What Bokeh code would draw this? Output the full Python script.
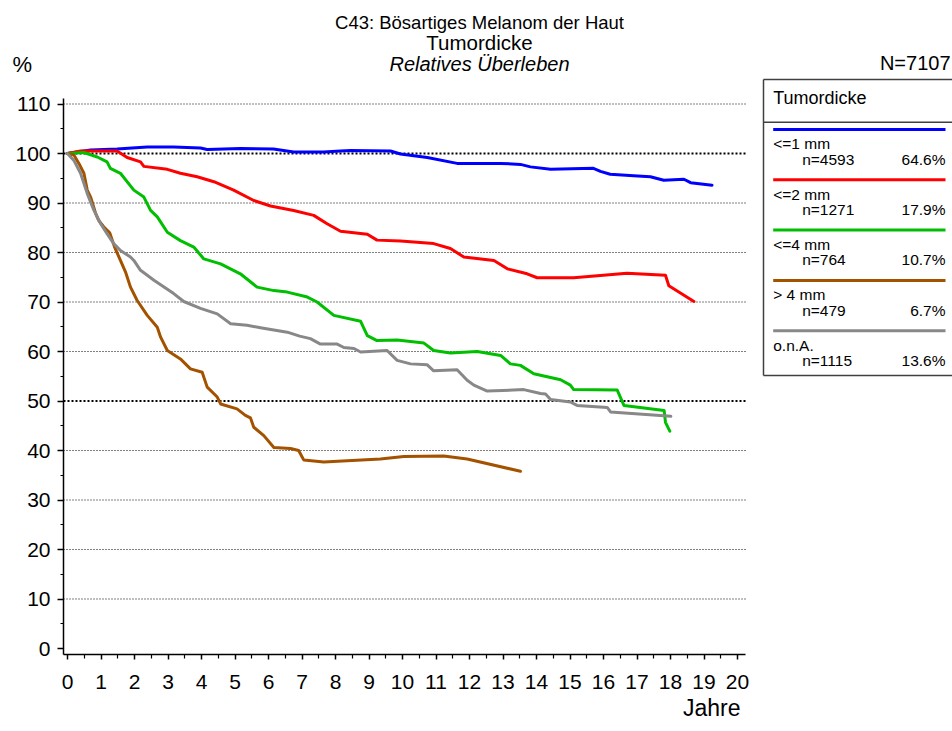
from bokeh.plotting import figure
from bokeh.models import Range1d, FixedTicker, Label, ColumnDataSource, LinearAxis
from bokeh.core.properties import value
from bokeh.embed import file_html
from bokeh.resources import INLINE

# ---------------- data ----------------
chart_title = "C43: Bösartiges Melanom der Haut"
chart_subtitle = "Tumordicke"
chart_measure = "Relatives Überleben"
x_label = "Jahre"
y_label = "%"
legend_title = "Tumordicke"
n_total = 7107

groups = ["<=1 mm", "<=2 mm", "<=4 mm", "> 4 mm", "o.n.A."]
group_n = [4593, 1271, 764, 479, 1115]
group_pct = [64.6, 17.9, 10.7, 6.7, 13.6]
group_colors = ["#0000FF", "#FF0000", "#00BE00", "#A35200", "#888888"]

x_le1 = [0, 0.69, 1.48, 2.38, 3.17, 3.97, 4.17, 5.16, 6.15, 6.75, 7.64, 8.15, 8.45, 9.64, 9.94,
         10.74, 11.63, 12.93, 13.52, 13.82, 14.42, 15.7, 15.91, 16.2, 16.9, 17.4, 17.8, 18.4, 18.6, 19.24]
y_le1 = [100, 100.7, 100.9, 101.3, 101.3, 101.1, 100.8, 101.0, 100.9, 100.3, 100.3, 100.5, 100.6, 100.5, 99.9,
         99.2, 98.0, 98.0, 97.8, 97.3, 96.8, 97.0, 96.4, 95.8, 95.5, 95.3, 94.6, 94.8, 94.1, 93.6]

x_le2 = [0, 0.39, 1.48, 1.78, 2.18, 2.28, 2.98, 3.37, 3.87, 4.37, 4.96, 5.56, 6.06, 6.75, 7.35, 7.75,
         8.15, 8.95, 9.24, 9.94, 10.93, 11.43, 11.83, 12.73, 13.13, 13.72, 14.02, 15.11, 16.7, 17.85, 17.95, 18.7]
y_le2 = [100, 100.5, 100.5, 99.2, 98.3, 97.4, 96.8, 96.0, 95.3, 94.3, 92.6, 90.5, 89.4, 88.5, 87.5, 85.8,
         84.3, 83.7, 82.5, 82.3, 81.8, 80.8, 79.1, 78.4, 76.7, 75.7, 74.9, 74.9, 75.8, 75.4, 73.3, 70.1]

x_le4 = [0, 0.49, 0.89, 1.18, 1.28, 1.58, 1.98, 2.28, 2.48, 2.68, 2.98, 3.37, 3.77, 4.07, 4.57, 5.16,
         5.66, 6.16, 6.56, 7.16, 7.45, 7.95, 8.75, 8.95, 9.24, 9.84, 10.64, 10.93, 11.43, 12.23, 12.93,
         13.22, 13.52, 13.92, 14.72, 15.01, 15.11, 16.41, 16.61, 17.81, 17.85, 17.98]
y_le4 = [100, 100.2, 99.3, 98.3, 97.0, 96.0, 92.6, 91.2, 88.5, 87.2, 84.1, 82.4, 81.1, 78.7, 77.7, 75.7,
         73.0, 72.3, 72.0, 71.0, 70.0, 67.3, 66.1, 63.2, 62.2, 62.3, 61.7, 60.2, 59.7, 60.0, 59.2,
         57.5, 57.2, 55.5, 54.3, 53.2, 52.3, 52.2, 49.1, 48.1, 45.7, 43.9]

x_gt4 = [0, 0.19, 0.34, 0.49, 0.59, 0.69, 0.84, 0.93, 1.08, 1.26, 1.4, 1.58, 1.73, 1.88, 2.08, 2.38,
         2.68, 2.78, 2.98, 3.37, 3.67, 4.02, 4.17, 4.47, 4.57, 5.06, 5.31, 5.46, 5.56, 5.86, 6.16,
         6.66, 6.9, 7.05, 7.65, 9.34, 10.04, 11.23, 11.93, 13.52]
y_gt4 = [100, 99.7, 98.0, 96.0, 92.6, 91.2, 87.9, 86.5, 85.2, 84.0, 81.2, 78.4, 76.1, 73.0, 70.3, 67.3,
         64.9, 62.9, 60.2, 58.5, 56.5, 55.8, 52.8, 50.8, 49.4, 48.4, 47.1, 46.6, 44.7, 43.0, 40.6,
         40.4, 40.0, 38.1, 37.7, 38.3, 38.8, 38.9, 38.3, 35.8]

x_ona = [0, 0.19, 0.39, 0.59, 0.79, 0.99, 1.18, 1.38, 1.58, 1.88, 1.98, 2.18, 2.58, 3.17, 3.47, 3.97,
         4.47, 4.87, 5.36, 5.76, 6.56, 6.93, 7.25, 7.55, 8.05, 8.25, 8.55, 8.75, 9.54, 9.84, 10.24,
         10.74, 10.93, 11.63, 11.93, 12.13, 12.53, 13.62, 14.12, 14.27, 14.42, 15.01, 15.21, 16.11, 16.21, 18.01]
y_ona = [100, 98.6, 96.0, 91.9, 88.5, 85.8, 83.8, 81.8, 80.4, 79.1, 78.4, 76.4, 74.4, 71.7, 70.1, 68.7,
         67.6, 65.6, 65.3, 64.8, 63.9, 63.1, 62.6, 61.5, 61.5, 60.8, 60.6, 59.9, 60.2, 58.2, 57.5,
         57.3, 56.1, 56.3, 54.2, 53.2, 52.0, 52.3, 51.5, 51.4, 50.3, 49.8, 49.1, 48.7, 47.8, 46.9]

series_x = [x_le1, x_le2, x_le4, x_gt4, x_ona]
series_y = [y_le1, y_le2, y_le4, y_gt4, y_ona]

x_ticks = list(range(0, 21))
y_ticks = list(range(0, 111, 10))
grid_levels = [10, 20, 30, 40, 60, 70, 80, 90, 110]
bold_levels = [50, 100]

# ---------------- layout (pixel geometry) ----------------
FONT = "Liberation Sans"
W, H = 952, 730
PPX, PPY = 33.5, 4.95      # pixels per year / per percent
X0_PX, Y0_PX = 67, 648     # pixel position of year 0 / 0 %
PLOT_L, PLOT_R, PLOT_T, PLOT_B = 63, 745, 98, 654


def dx(px):
    return (px - X0_PX) / PPX


def dy(py):
    return (Y0_PX - py) / PPY


p = figure(width=W, height=H, x_range=Range1d(dx(0), dx(W)), y_range=Range1d(dy(H), dy(0)),
           output_backend="svg", toolbar_location=None, tools="", min_border=0,
           x_axis_type=None, y_axis_type=None)
p.outline_line_color = None
p.background_fill_color = "white"
p.border_fill_color = "white"

xa = LinearAxis(fixed_location=dy(PLOT_B), bounds=(dx(PLOT_L), dx(PLOT_R)),
                ticker=FixedTicker(ticks=x_ticks, minor_ticks=[t + 0.5 for t in x_ticks[:-1]]))
ya = LinearAxis(fixed_location=dx(PLOT_L), bounds=(dy(PLOT_B), dy(PLOT_T)),
                ticker=FixedTicker(ticks=y_ticks, minor_ticks=[t + 5 for t in y_ticks[:-1]]))
for ax in (xa, ya):
    ax.axis_line_color = "black"
    ax.axis_line_width = 1.5
    ax.major_tick_line_color = "black"
    ax.major_tick_line_width = 1.5
    ax.minor_tick_line_color = "black"
    ax.minor_tick_line_width = 1.2
    ax.major_tick_in = 0
    ax.minor_tick_in = 0
    ax.major_label_text_font = FONT
    ax.major_label_text_font_size = "21px"
    ax.major_label_text_color = "black"
xa.major_tick_out = 5
xa.minor_tick_out = 4
xa.major_label_standoff = 15
ya.major_tick_out = 6
ya.minor_tick_out = 3
ya.major_label_standoff = 7
p.add_layout(xa, "below")
p.add_layout(ya, "left")

# dotted horizontal grid lines
gx0, gx1 = dx(PLOT_L), dx(PLOT_R)
p.segment(x0=[gx0] * len(grid_levels), y0=grid_levels, x1=[gx1] * len(grid_levels), y1=grid_levels,
          line_color="black", line_width=1.2, line_dash="1 2")
p.segment(x0=[gx0] * len(bold_levels), y0=bold_levels, x1=[gx1] * len(bold_levels), y1=bold_levels,
          line_color="black", line_width=2, line_dash="2 2")

# survival curves
for xs, ys, col in zip(series_x, series_y, group_colors):
    p.line(xs, ys, line_color=col, line_width=3, line_join="round", line_cap="round")


def add_text(px, py, txt, size, align="left", style="normal"):
    p.add_layout(Label(x=dx(px), y=dy(py), text=txt, text_align=align, text_baseline="middle",
                       text_font=FONT, text_font_size=size, text_font_style=style, text_color="black"))


add_text(479, 21.7, chart_title, "18.5px", "center")
add_text(479, 41.7, chart_subtitle, "20.5px", "center")
add_text(479, 63.3, chart_measure, "20px", "center", "italic")
add_text(12, 64, y_label, "22px")
add_text(740, 707, x_label, "23px", "right")
add_text(950, 62, "N=%d" % n_total, "20px", "right")

# ---------------- legend ----------------
BOX_L, BOX_T, BOX_B, BOX_R = 763, 79, 375, 960
SEP_Y = 121.7
ITEM_Y0, ITEM_DY = 129, 50.3
TXT_L, N_L, TXT_R = 772.7, 801.7, 945

p.segment(x0=[dx(BOX_L)] * 4, y0=[dy(BOX_T), dy(BOX_B), dy(BOX_T), dy(SEP_Y)],
          x1=[dx(BOX_R), dx(BOX_R), dx(BOX_L), dx(BOX_R)], y1=[dy(BOX_T), dy(BOX_B), dy(BOX_B), dy(SEP_Y)],
          line_color="#404040", line_width=1.5)
add_text(TXT_L, 97.5, legend_title, "18px")

k = len(groups)
item_py = [ITEM_Y0 + ITEM_DY * i for i in range(k)]
leg_src = ColumnDataSource(dict(
    y=[dy(v) for v in item_py], color=group_colors, name=groups,
    n=["n=%d" % v for v in group_n], pct=["%.1f%%" % v for v in group_pct],
    ty1=[dy(v + 14.3) for v in item_py], ty2=[dy(v + 29.7) for v in item_py],
    x0=[dx(TXT_L)] * k, x1=[dx(TXT_R)] * k, xn=[dx(N_L)] * k))
p.segment(x0="x0", y0="y", x1="x1", y1="y", line_color="color", line_width=3, source=leg_src)
for col, xcol, align in (("name", "x0", "left"), ("n", "xn", "left"), ("pct", "x1", "right")):
    p.text(x=xcol, y="ty1" if col == "name" else "ty2", text=col, text_font=value(FONT),
           text_font_size=value("15.5px"), text_align=align, text_baseline="middle",
           text_color="black", source=leg_src)

open("out.html", "w").write(file_html(p, INLINE))
